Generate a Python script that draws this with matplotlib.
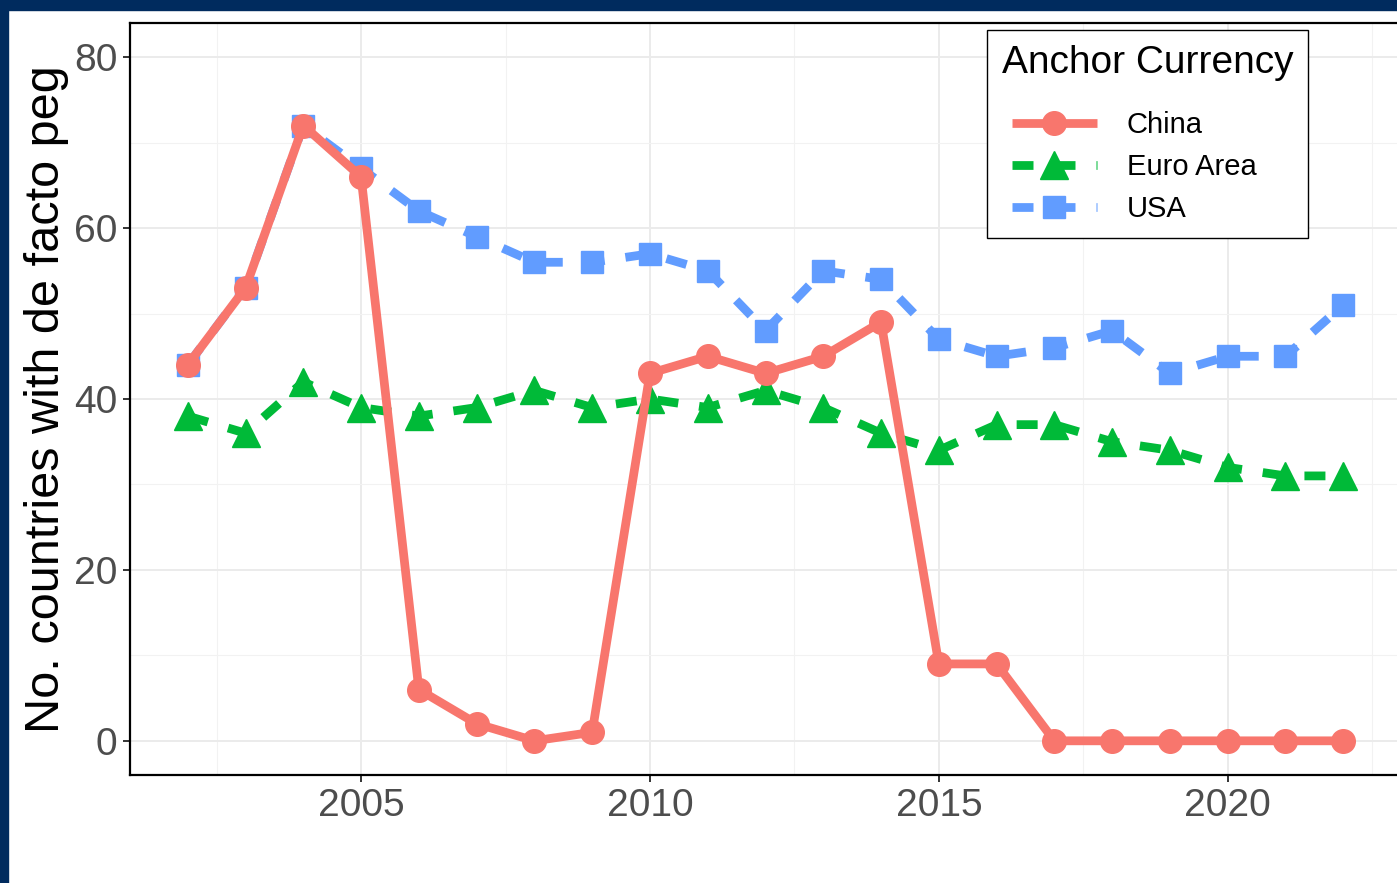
import numpy as np
import matplotlib.pyplot as plt
from matplotlib.patches import Rectangle
from matplotlib.ticker import MultipleLocator
from matplotlib.legend_handler import HandlerLine2D

years = list(range(2002, 2023))
china = [44, 53, 72, 66, 6, 2, 0, 1, 43, 45, 43, 45, 49, 9, 9, 0, 0, 0, 0, 0, 0]
euro = [38, 36, 42, 39, 38, 39, 41, 39, 40, 39, 41, 39, 36, 34, 37, 37, 35, 34, 32, 31, 31]
usa = [44, 53, 72, 67, 62, 59, 56, 56, 57, 55, 48, 55, 54, 47, 45, 46, 48, 43, 45, 45, 51]

plt.rcParams['font.family'] = ['Liberation Sans', 'DejaVu Sans']

fig = plt.figure(figsize=(13.97, 8.83), dpi=100)
W, H = 1397, 883
ax = fig.add_axes([130 / W, (H - 775) / H, (1401 - 130) / W, (775 - 23) / H])

# navy frame on the left and top
fig.patches.append(Rectangle((0, 0), 8 / W, 1, transform=fig.transFigure, color='#002b5e', zorder=0))
fig.patches.append(Rectangle((0, 1 - 10 / H), 1, 10 / H, transform=fig.transFigure, color='#002b5e', zorder=0))

lw = 6.3
ax.plot(years, usa, color='#619cff', lw=lw, dashes=(2.4, 2.4), marker='s', ms=16.5,
        label='USA', zorder=3, solid_capstyle='butt', dash_capstyle='butt')
ax.plot(years, euro, color='#00ba38', lw=lw, dashes=(2.4, 2.4), marker='^', ms=20,
        label='Euro Area', zorder=4, solid_capstyle='butt', dash_capstyle='butt')
ax.plot(years, china, color='#f8766d', lw=lw, marker='o', ms=17,
        label='China', zorder=5, solid_capstyle='butt')

ax.set_xlim(2001, 2023)
ax.set_ylim(-4, 84)
ax.xaxis.set_major_locator(MultipleLocator(5))
ax.xaxis.set_minor_locator(MultipleLocator(2.5))
ax.yaxis.set_major_locator(MultipleLocator(20))
ax.yaxis.set_minor_locator(MultipleLocator(10))
ax.grid(which='major', color='#ebebeb', lw=1.4)
ax.grid(which='minor', color='#f2f2f2', lw=0.8)
ax.set_axisbelow(True)
ax.tick_params(which='major', labelsize=28, labelcolor='#4d4d4d', color='#333333',
               length=5, width=1.4, pad=4)
ax.tick_params(which='minor', length=0)
for s in ax.spines.values():
    s.set_linewidth(1.6)
    s.set_color('black')

ax.set_ylabel('No. countries with de facto peg', fontsize=35, labelpad=4)

handles, labels = ax.get_legend_handles_labels()
order = [2, 1, 0]
hl = [handles[i] for i in order]
leg = ax.legend(hl, [labels[i] for i in order],
                title='Anchor Currency', loc='upper left',
                bbox_to_anchor=((987 - 130) / (1401 - 130), 1 - (30 - 23) / (775 - 23)),
                borderaxespad=0,
                handler_map={h: HandlerLine2D(xpad=0.34) for h in hl},
                fontsize=21, title_fontsize=28, frameon=True, fancybox=False,
                edgecolor='black', framealpha=1, borderpad=0.51,
                handlelength=3.26, handletextpad=1.03, labelspacing=0.48)
leg.get_frame().set_linewidth(1.0)
leg._legend_box.align = 'left'
leg._legend_box.sep = 21.8

fig.savefig('out.png', dpi=100)
